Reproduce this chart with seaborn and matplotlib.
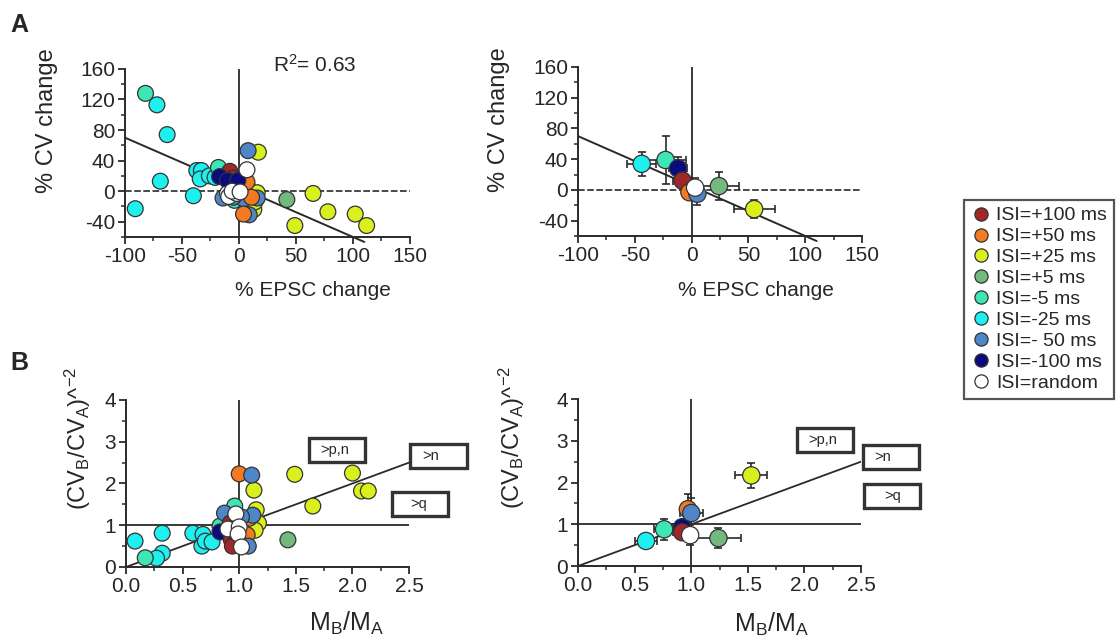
import numpy as np
import pandas as pd
import matplotlib
matplotlib.use("Agg")
import matplotlib.pyplot as plt
import seaborn as sns
from matplotlib.patches import Rectangle
from matplotlib.lines import Line2D
from matplotlib.ticker import MultipleLocator

# ---------------- data ----------------
ISI_LABELS = ["ISI=+100 ms", "ISI=+50 ms", "ISI=+25 ms", "ISI=+5 ms", "ISI=-5 ms",
              "ISI=-25 ms", "ISI=- 50 ms", "ISI=-100 ms", "ISI=random"]
ISI_COLORS = ["#a1282a", "#f47a22", "#d9f01e", "#72b87f", "#3ee6b6",
              "#1ef0f0", "#4f86c8", "#0b0b80", "#ffffff"]

# Panel A left: individual cells
a_isi = (["ISI=-25 ms"] * 10 + ["ISI=-5 ms"] * 4 + ["ISI=+5 ms"] * 2 + ["ISI=+25 ms"] * 9
         + ["ISI=- 50 ms"] * 6 + ["ISI=+50 ms"] * 3 + ["ISI=+100 ms"] * 2
         + ["ISI=-100 ms"] * 3 + ["ISI=random"] * 6)
a_epsc = [-91, -72, -63, -69, -40, -37, -33, -34, -26, -21,
          -82, -18, -4, 8,
          42, 4,
          17, 16, 13, 65, 49, 78, 102, 112, 14,
          8, -14, 4, 16, 9, -5,
          4, 7, 11,
          -8, -5,
          -17, -10, -1,
          7, -10, -9, -2, -6, 1]
a_cv = [-23, 113, 74, 13, -6, 27, 27, 16, 20, 18,
        128, 31, -12, 4,
        -11, 18,
        51, -2, -24, -3, -45, -27, -30, -45, -14,
        53, -9, -10, -9, -31, -8,
        -30, 12, -8,
        26, 17,
        19, 14, 14,
        28, -3, -7, -3, 0, -1]

# Panel A right: group means +/- error
m_isi = ["ISI=-25 ms", "ISI=-5 ms", "ISI=+5 ms", "ISI=+25 ms", "ISI=-100 ms",
         "ISI=+100 ms", "ISI=+50 ms", "ISI=- 50 ms", "ISI=random"]
ma_epsc = [-44, -23, 24, 55, -12, -8, -2, 5, 3]
ma_epsc_err = [13, 18, 18, 18, 8, 8, 6, 6, 6]
ma_cv = [34, 39, 5, -25, 28, 12, -3, -5, 3]
ma_cv_err = [16, 31, 18, 12, 15, 10, 8, 15, 12]

# Panel B left: individual cells
b_isi = (["ISI=-25 ms"] * 9 + ["ISI=-5 ms"] * 3 + ["ISI=+5 ms"] * 1 + ["ISI=+25 ms"] * 9
         + ["ISI=+50 ms"] * 3 + ["ISI=- 50 ms"] * 5 + ["ISI=-100 ms"] * 1
         + ["ISI=+100 ms"] * 4 + ["ISI=random"] * 5)
b_m = [0.08, 0.32, 0.32, 0.27, 0.59, 0.68, 0.67, 0.70, 0.76,
       0.17, 0.96, 0.83,
       1.43,
       1.49, 2.00, 2.08, 2.14, 1.65, 1.13, 1.15, 1.17, 1.14,
       1.00, 1.09, 1.07,
       1.11, 0.87, 1.12, 1.08, 1.02,
       0.83,
       0.92, 0.93, 0.94, 0.95,
       0.97, 0.90, 1.00, 0.99, 1.02]
b_cv = [0.62, 0.81, 0.33, 0.21, 0.81, 0.78, 0.50, 0.62, 0.60,
        0.22, 1.46, 0.98,
        0.65,
        2.22, 2.25, 1.82, 1.82, 1.46, 1.84, 1.37, 1.05, 0.88,
        2.23, 1.17, 0.77,
        2.20, 1.29, 1.24, 0.50, 1.20,
        0.84,
        1.05, 0.65, 0.50, 0.85,
        1.27, 0.91, 0.96, 0.79, 0.48]

# Panel B right: group means +/- error (same order as m_isi)
mb_m = [0.60, 0.76, 1.24, 1.53, 0.92, 0.92, 0.97, 1.00, 0.99]
mb_m_err = [0.10, 0.09, 0.20, 0.14, 0.08, 0.08, 0.05, 0.10, 0.05]
mb_cv = [0.60, 0.88, 0.67, 2.17, 0.93, 0.81, 1.36, 1.27, 0.74]
mb_cv_err = [0.07, 0.25, 0.24, 0.29, 0.12, 0.12, 0.36, 0.36, 0.24]

FIT_SLOPE = -0.65
FIT_INTERCEPT = 5.0
R2_TEXT = "0.63"

# ---------------- style ----------------
sns.set_style("ticks")
plt.rcParams["font.family"] = ["Liberation Sans", "DejaVu Sans"]
plt.rcParams["axes.unicode_minus"] = False
plt.rcParams["mathtext.fontset"] = "custom"
plt.rcParams["mathtext.rm"] = "Liberation Sans"
plt.rcParams["mathtext.it"] = "Liberation Sans:italic"
plt.rcParams["mathtext.bf"] = "Liberation Sans:bold"

palette = dict(zip(ISI_LABELS, ISI_COLORS))
INK = "#2a2a2a"

fig = plt.figure(figsize=(11.17, 6.44), dpi=100)
axA1 = fig.add_axes([0.1119, 0.632, 0.2551, 0.261])
axA2 = fig.add_axes([0.5175, 0.6335, 0.2543, 0.2625])
axB1 = fig.add_axes([0.1128, 0.1196, 0.2534, 0.2593])
axB2 = fig.add_axes([0.5175, 0.1211, 0.2534, 0.2593])


def style(ax, xlim, ylim, xmaj, xmin, ymaj, ymin):
    ax.set_xlim(*xlim)
    ax.set_ylim(*ylim)
    ax.xaxis.set_major_locator(MultipleLocator(xmaj))
    ax.xaxis.set_minor_locator(MultipleLocator(xmin))
    ax.yaxis.set_major_locator(MultipleLocator(ymaj))
    ax.yaxis.set_minor_locator(MultipleLocator(ymin))
    for s in ["top", "right"]:
        ax.spines[s].set_visible(False)
    for s in ["left", "bottom"]:
        ax.spines[s].set_linewidth(1.4)
        ax.spines[s].set_color(INK)
    ax.tick_params(which="major", length=5, width=1.3, color=INK,
                   labelsize=15, pad=2, direction="out")
    ax.tick_params(which="minor", length=3, width=1.1, color=INK, direction="out")
    ax.set_facecolor("white")


def scatter(ax, x, y, hue, s=130):
    df = pd.DataFrame({"x": x, "y": y, "isi": hue})
    sns.scatterplot(data=df, x="x", y="y", hue="isi", palette=palette,
                    hue_order=ISI_LABELS, s=s, edgecolor="#333333",
                    linewidth=0.9, legend=False, ax=ax, zorder=4, clip_on=False)


# ---- Panel A ----
for ax in (axA1, axA2):
    style(ax, (-100, 150), (-60, 160), 50, 25, 40, 20)
    ax.axvline(0, color=INK, lw=1.3, zorder=1)
    ax.axhline(0, color=INK, lw=1.2, ls=(0, (4, 1.5)), zorder=1)
    fx = np.array([-100, 110])
    ax.plot(fx, FIT_INTERCEPT + FIT_SLOPE * fx, color=INK, lw=1.4,
            clip_on=False, zorder=2)
    ax.set_xlabel("% EPSC change", fontsize=15)
    ax.set_ylabel("% CV change", fontsize=17)

scatter(axA1, a_epsc, a_cv, a_isi)
axA1.text(30, 165, r"R$^\mathregular{2}$= " + R2_TEXT, fontsize=15, va="center")

axA2.errorbar(ma_epsc, ma_cv, xerr=ma_epsc_err, yerr=ma_cv_err, fmt="none",
              ecolor=INK, elinewidth=1.2, capsize=3, capthick=1.2, zorder=3)
scatter(axA2, ma_epsc, ma_cv, m_isi, s=155)

axA1.xaxis.set_label_coords(0.66, -0.26)
axA1.yaxis.set_label_coords(-0.235, 0.69)
axA2.xaxis.set_label_coords(0.627, -0.265)
axA2.yaxis.set_label_coords(-0.239, 0.686)

# ---- Panel B ----
ylab_b = r"(CV$_\mathregular{B}$/CV$_\mathregular{A}$)^$^\mathregular{-2}$"
xlab_b = r"M$_\mathregular{B}$/M$_\mathregular{A}$"
for ax in (axB1, axB2):
    style(ax, (0, 2.5), (0, 4), 0.5, 0.25, 1, 0.5)
    ax.xaxis.set_major_formatter(matplotlib.ticker.FormatStrFormatter("%.1f"))
    ax.axvline(1, color=INK, lw=1.3, zorder=1)
    ax.axhline(1, color=INK, lw=1.3, zorder=1)
    ix = np.array(ax.get_xlim())
    ax.plot(ix, ix, color=INK, lw=1.3, zorder=2)
    ax.set_xlabel(xlab_b, fontsize=18)
    ax.set_ylabel(ylab_b, fontsize=17)

scatter(axB1, b_m, b_cv, b_isi)
axB2.errorbar(mb_m, mb_cv, xerr=mb_m_err, yerr=mb_cv_err, fmt="none",
              ecolor=INK, elinewidth=1.2, capsize=3, capthick=1.2, zorder=3)
scatter(axB2, mb_m, mb_cv, m_isi, s=155)

axB1.xaxis.set_label_coords(0.78, -0.255)
axB1.yaxis.set_label_coords(-0.117, 0.77)
axB2.xaxis.set_label_coords(0.685, -0.27)
axB2.yaxis.set_label_coords(-0.18, 0.77)

BOX_W, BOX_H = 0.495, 0.575


def tag(ax, cx, cy, text, tx_off):
    r = Rectangle((cx - BOX_W / 2, cy - BOX_H / 2), BOX_W, BOX_H, fill=True,
                  facecolor="white", edgecolor="#333333", lw=2.4,
                  clip_on=False, zorder=5)
    ax.add_patch(r)
    ax.text(cx - BOX_W / 2 + tx_off, cy, text, fontsize=10.5, va="center",
            ha="left", clip_on=False, zorder=6)


tag(axB1, 1.864, 2.81, ">p,n", 0.10)
tag(axB1, 2.76, 2.67, ">n", 0.10)
tag(axB1, 2.60, 1.52, ">q", 0.16)
tag(axB2, 2.18, 3.03, ">p,n", 0.10)
tag(axB2, 2.765, 2.60, ">n", 0.10)
tag(axB2, 2.77, 1.68, ">q", 0.18)

# ---- panel letters ----
fig.text(10 / 1117, 1 - 25 / 644, "A", fontsize=18, fontweight="bold", va="center")
fig.text(10 / 1117, 1 - 363 / 644, "B", fontsize=18, fontweight="bold", va="center")

# ---- legend ----
handles = [Line2D([], [], marker="o", ls="", markerfacecolor=c,
                  markeredgecolor="#333333", markeredgewidth=0.9, markersize=9.5)
           for c in ISI_COLORS]
leg = fig.legend(handles, ISI_LABELS, loc="upper left",
                 bbox_to_anchor=(964 / 1117, 1 - 200 / 644), borderaxespad=0,
                 fontsize=14, frameon=True, fancybox=False, handlelength=1.0,
                 handletextpad=0.3, labelspacing=0.17, borderpad=0.35)
leg.get_frame().set_edgecolor(INK)
leg.get_frame().set_linewidth(1.6)

fig.savefig("out.png", dpi=100, facecolor="white")
